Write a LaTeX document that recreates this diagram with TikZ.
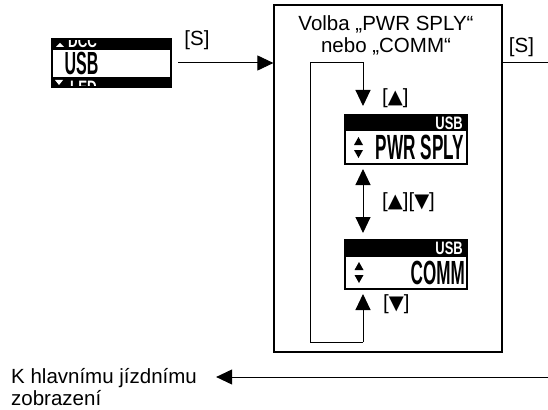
\documentclass[tikz,border=0pt]{standalone}
\usepackage{fontspec}
\setmainfont{Liberation Sans}
\newfontfamily\symfnt{DejaVu Sans}
\usetikzlibrary{arrows.meta}
\newcommand{\lcdtxt}[3]{\scalebox{#2}[1]{\fontsize{#1}{#1}\selectfont\bfseries #3}}
\newcommand{\keyup}{{\symfnt\scalebox{0.95}{▲}}}
\newcommand{\keydn}{{\symfnt\scalebox{0.95}{▼}}}
\begin{document}
\begin{tikzpicture}[x=1pt,y=-1pt,
  lbl/.style={font=\fontsize{20.5}{22}\selectfont, inner sep=0pt},
  conn/.style={line width=1pt, draw=black},
  arr/.style={conn, -{Triangle[length=16pt,width=15pt]}},
  darr/.style={conn, {Triangle[length=16pt,width=15pt]}-{Triangle[length=16pt,width=15pt]}},
  lcdbox/.style={draw=black, line width=2pt, fill=white, minimum width=122pt, minimum height=49pt, inner sep=0pt},
  lcdw/.style={inner sep=0pt, text=white},
  lcdb/.style={inner sep=0pt, text=black}]
\useasboundingbox (0,0) rectangle (548,409);

% left display
\node[fill=black, minimum width=121pt, minimum height=50pt, inner sep=0pt] (ldisp) at (111.5,63) {};
\fill[white] (53,50) rectangle (170,77);
\node[lcdb, anchor=base] (lusb) at (81.5,75) {\lcdtxt{32}{0.5}{USB}};
\begin{scope}
  \clip (51,41) rectangle (172,85.5);
  \node[lcdw, anchor=base west] (ldcc) at (68,48) {\lcdtxt{18}{0.74}{DCC}};
  \node[lcdw, anchor=base west] (lled) at (70,94) {\lcdtxt{18}{0.74}{LED}};
\end{scope}
\fill[white] (56,47) -- (64,47) -- (60,43) -- cycle;
\fill[white] (55,80) -- (63,80) -- (59,85) -- cycle;

% big box
\node[draw=black, line width=1.2pt, minimum width=228pt, minimum height=347pt, inner sep=0pt] (bigbox) at (388,178.5) {};
\node[lbl, anchor=base] (t1) at (386,31) {Volba „PWR SPLY“};
\node[lbl, anchor=base] (t2) at (386,53) {nebo „COMM“};

% S labels and arrows
\node[lbl, anchor=base] (s1) at (197,46) {[S]};
\draw[arr, shorten <=6pt] (ldisp.east) -- (ldisp.east -| bigbox.west);
\node[lbl, anchor=base] (s2) at (521.5,53) {[S]};
\coordinate (rend) at (548,63);
\draw[conn] (rend -| bigbox.east) -- (rend);

% back arrow
\node[lbl, anchor=base west] (back1) at (11,383) {K hlavnímu jízdnímu};
\node[lbl, anchor=base west] (back2) at (11,405) {zobrazení};
\coordinate (bstart) at (548,377);
\draw[arr, shorten >=19pt] (bstart) -- (bstart -| back1.east);

% PWR SPLY display
\node[lcdbox] (pwr) at (406,139.5) {};
\fill[black] (345,115) rectangle (467,131);
\node[lcdw, anchor=base east] (pusb) at (463,129) {\lcdtxt{18}{0.72}{USB}};
\node[lcdb, anchor=base east] (ptxt) at (464,159) {\lcdtxt{35}{0.49}{PWR SPLY}};
\fill (354,145) -- (363,145) -- (358.5,137) -- cycle;
\fill (354,150) -- (363,150) -- (358.5,158) -- cycle;

% COMM display
\node[lcdbox] (comm) at (406,264.5) {};
\fill[black] (345,240) rectangle (467,256.5);
\node[lcdw, anchor=base east] (cusb) at (463,254) {\lcdtxt{18}{0.72}{USB}};
\node[lcdb, anchor=base east] (ctxt) at (465,284) {\lcdtxt{33.5}{0.51}{COMM}};
\fill (354.5,270) -- (363.5,270) -- (359,262) -- cycle;
\fill (354.5,275) -- (363.5,275) -- (359,283) -- cycle;

% loop
\coordinate (lb) at (363,342);
\draw[arr, shorten >=8pt] (lb) -- (310,342) -- (310,63) -- (363,63) -- (lb |- pwr.north);
\draw[arr, shorten >=4pt] (lb) -- (lb |- comm.south);
\draw[darr, shorten <=4pt, shorten >=6pt] (lb |- pwr.south) -- (lb |- comm.north);

% key labels
\node[lbl, anchor=base west] (k1) at (382,103) {[\keyup]};
\node[lbl, anchor=base west] (k2) at (382,207) {[\keyup][\keydn]};
\node[lbl, anchor=base west] (k3) at (383,309) {[\keydn]};
\end{tikzpicture}
\end{document}
